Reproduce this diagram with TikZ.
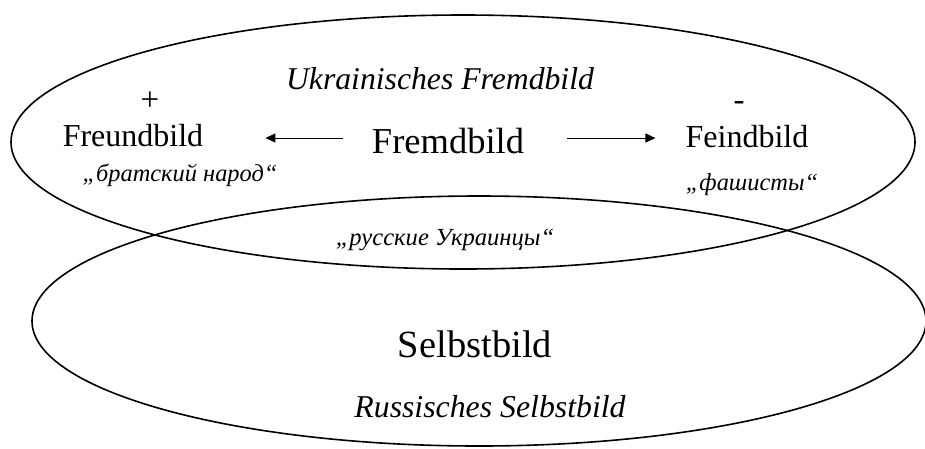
\documentclass[tikz,border=0pt]{standalone}
\usepackage{fontspec}
\setmainfont{Liberation Serif}
\usetikzlibrary{arrows.meta}
\tikzset{
  oval/.style={draw=black, line width=1.6pt},
  lbl/.style={inner sep=0pt, anchor=base},
  arr/.style={line width=0.9pt, -{Triangle[length=10pt,width=9pt]}},
}
\begin{document}
\begin{tikzpicture}[x=1pt,y=-1pt]
\useasboundingbox (0,0) rectangle (925,448);
\draw[oval] (463,142) ellipse [x radius=452, y radius=127];
\draw[oval] (479,321) ellipse [x radius=447, y radius=125];
\node[lbl, font=\fontsize{31.7}{36}\selectfont\itshape] (ukr) at (440,89) {Ukrainisches Fremdbild};
\node[lbl, font=\fontsize{33}{38}\selectfont] (plus) at (150,110) {+};
\node[lbl, font=\fontsize{33}{38}\selectfont] (minus) at (739,110) {-};
\node[lbl, font=\fontsize{32}{38}\selectfont] (freund) at (133,146) {Freundbild};
\node[lbl, font=\fontsize{36.5}{42}\selectfont] (fremd) at (448,153) {Fremdbild};
\node[lbl, font=\fontsize{32}{38}\selectfont] (feind) at (747,147) {Feindbild};
\node[lbl, font=\fontsize{24.4}{28}\selectfont\itshape] (brat) at (180,181) {„братский народ“};
\node[lbl, font=\fontsize{24.4}{28}\selectfont\itshape] (fasch) at (752,190) {„фашисты“};
\node[lbl, font=\fontsize{24.6}{28}\selectfont\itshape] (russ) at (445,245) {„русские Украинцы“};
\node[lbl, font=\fontsize{38.5}{44}\selectfont] (selbst) at (475,357) {Selbstbild};
\node[lbl, font=\fontsize{31.8}{36}\selectfont\itshape] (russselbst) at (490,417) {Russisches Selbstbild};
\coordinate (lstart) at (343,138);
\coordinate (rstart) at (567,138);
\draw[arr, shorten >=62pt] (lstart) -- (lstart -| freund.east);
\draw[arr, shorten >=30pt] (rstart) -- (rstart -| feind.west);
\end{tikzpicture}
\end{document}
